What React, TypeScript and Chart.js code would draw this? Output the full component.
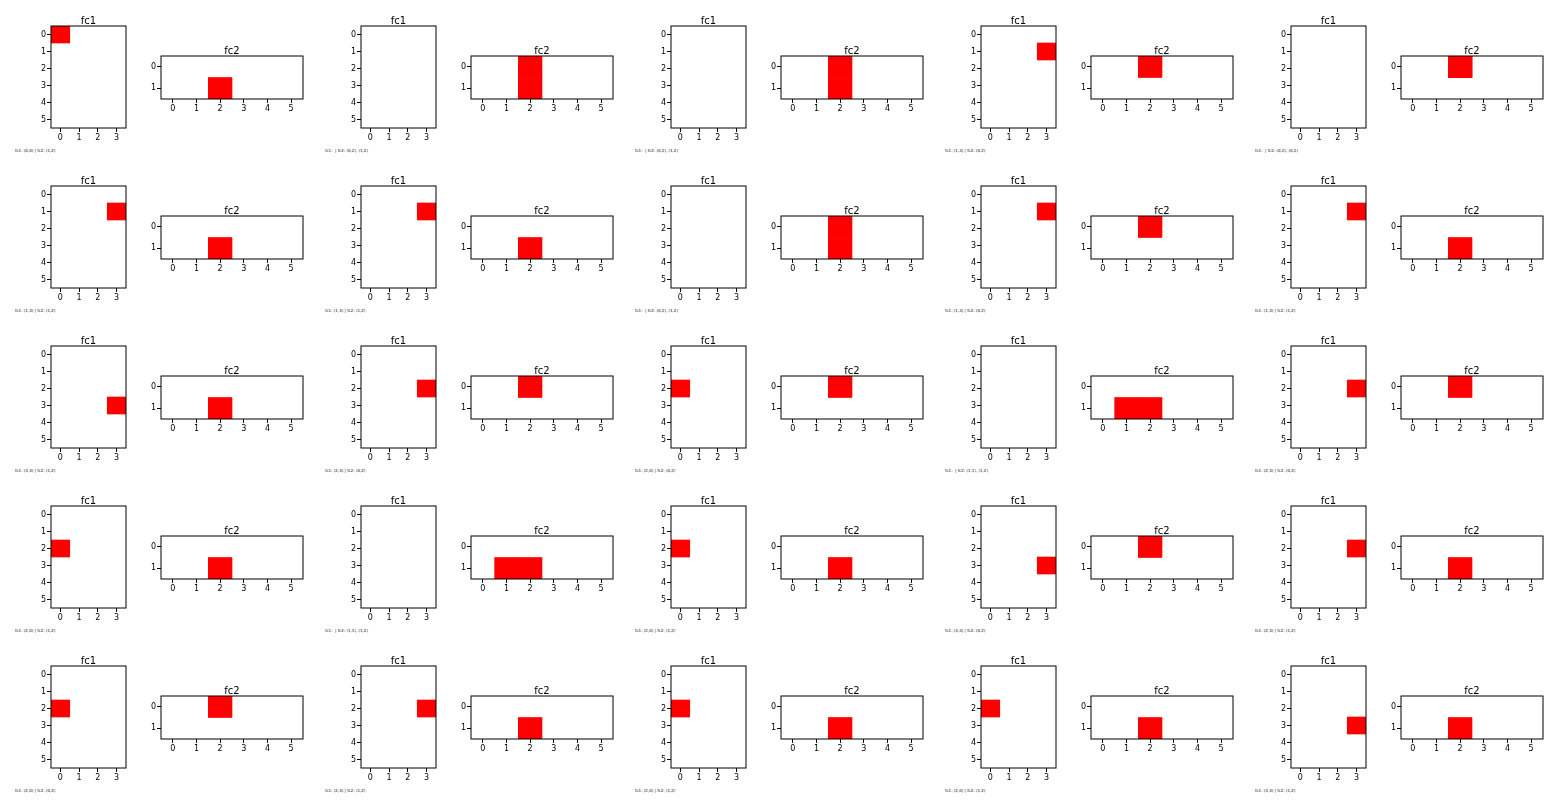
import React, { useEffect, useRef } from "react";
import { Chart, registerables } from "chart.js";

Chart.register(...registerables);
Chart.defaults.font.family = "'DejaVu Sans', sans-serif";

// axis categories / tick labels
const fc1Cols = ["0", "1", "2", "3"];
const fc1Rows = [0, 1, 2, 3, 4, 5];
const fc2Cols = ["0", "1", "2", "3", "4", "5"];
const fc2Rows = [0, 1];

// red cells [row, col] for each panel (row-major over the 5x5 grid)
const fc1Cells: number[][][] = [
  [[0, 0]], [], [], [[1, 3]], [],
  [[1, 3]], [[1, 3]], [], [[1, 3]], [[1, 3]],
  [[3, 3]], [[2, 3]], [[2, 0]], [], [[2, 3]],
  [[2, 0]], [], [[2, 0]], [[3, 3]], [[2, 3]],
  [[2, 0]], [[2, 3]], [[2, 0]], [[2, 0]], [[3, 3]],
];
const fc2Cells: number[][][] = [
  [[1, 2]], [[0, 2], [1, 2]], [[0, 2], [1, 2]], [[0, 2]], [[0, 2], [0, 2]],
  [[1, 2]], [[1, 2]], [[0, 2], [1, 2]], [[0, 2]], [[1, 2]],
  [[1, 2]], [[0, 2]], [[0, 2]], [[1, 1], [1, 2]], [[0, 2]],
  [[1, 2]], [[1, 1], [1, 2]], [[1, 2]], [[0, 2]], [[1, 2]],
  [[0, 2]], [[1, 2]], [[1, 2]], [[1, 2]], [[1, 2]],
];

const GRID_COLS = 5;
const CELL_W = 310;
const CELL_H = 160;

const YW = 40;
const TOP = 18;
const XH = 20;
const RP = 6;

const framePlugin = {
  id: "frame",
  afterDatasetsDraw(chart: any) {
    const { ctx, chartArea: a } = chart;
    ctx.save();
    ctx.strokeStyle = "#000";
    ctx.lineWidth = 1;
    ctx.strokeRect(a.left, a.top, a.right - a.left, a.bottom - a.top);
    ctx.restore();
  },
};

function Heat(props: {
  plotLeft: number;
  plotTop: number;
  plotW: number;
  plotH: number;
  title: string;
  cols: string[];
  rows: number[];
  cells: number[][];
}) {
  const { plotLeft, plotTop, plotW, plotH, title, cols, rows, cells } = props;
  const ref = useRef<HTMLCanvasElement>(null);
  const cw = YW + plotW + RP;
  const ch = TOP + plotH + XH;

  useEffect(() => {
    const datasets = cells.map(([r, c]) => ({
      data: cols.map((_, i) => (i === c ? [r - 0.5, r + 0.5] : null)),
      backgroundColor: "#ff0000",
      borderWidth: 0,
      barPercentage: 1,
      categoryPercentage: 1,
      grouped: false,
    }));
    const tickFont = { size: 8, family: "'DejaVu Sans', sans-serif" };
    const gridOpts = {
      drawOnChartArea: false,
      drawTicks: true,
      tickLength: 4,
      color: "#000",
      lineWidth: 1,
    };
    const chart = new Chart(ref.current as HTMLCanvasElement, {
      type: "bar",
      data: { labels: cols, datasets: datasets as any },
      options: {
        animation: false,
        responsive: false,
        devicePixelRatio: 1,
        layout: { padding: { left: 0, right: RP, top: 0, bottom: 0 } },
        plugins: {
          legend: { display: false },
          tooltip: { enabled: false },
          title: {
            display: true,
            text: title,
            fullSize: false,
            color: "#000",
            font: { size: 10, weight: "normal", lineHeight: 1.0 },
            padding: { top: 8, bottom: 0 },
          },
        },
        scales: {
          x: {
            type: "category",
            offset: true,
            grid: { ...gridOpts, offset: false },
            border: { display: false },
            ticks: { color: "#000", font: tickFont, padding: 1, maxRotation: 0, autoSkip: false },
            afterFit(s: any) {
              s.height = XH;
            },
          },
          y: {
            type: "linear",
            reverse: true,
            min: -0.5,
            max: rows.length - 0.5,
            afterBuildTicks(s: any) {
              s.ticks = rows.map((v) => ({ value: v }));
            },
            grid: gridOpts,
            border: { display: false },
            ticks: { color: "#000", font: tickFont, padding: 1 },
            afterFit(s: any) {
              s.width = YW;
            },
          },
        },
      } as any,
      plugins: [framePlugin],
    });
    return () => chart.destroy();
  }, []);

  return (
    <canvas
      ref={ref}
      width={cw}
      height={ch}
      style={{
        position: "absolute",
        left: plotLeft - YW,
        top: plotTop - TOP,
        width: cw,
        height: ch,
      }}
    />
  );
}

function fmt(cells: number[][]) {
  return cells.map(([r, c]) => `(${r},${c})`).join(", ");
}

export default function App() {
  return (
    <div
      style={{
        position: "absolute",
        left: 0,
        top: 0,
        width: 1560,
        height: 810,
        background: "#fff",
        overflow: "hidden",
      }}
    >
      {fc1Cells.map((c1, i) => {
        const ox = (i % GRID_COLS) * CELL_W;
        const oy = Math.floor(i / GRID_COLS) * CELL_H;
        const c2 = fc2Cells[i];
        return (
          <React.Fragment key={i}>
            <Heat
              plotLeft={ox + 51}
              plotTop={oy + 26}
              plotW={75}
              plotH={102}
              title="fc1"
              cols={fc1Cols}
              rows={fc1Rows}
              cells={c1}
            />
            <Heat
              plotLeft={ox + 161}
              plotTop={oy + 56}
              plotW={142}
              plotH={43}
              title="fc2"
              cols={fc2Cols}
              rows={fc2Rows}
              cells={c2}
            />
            <div
              style={{
                position: "absolute",
                left: ox + 15,
                top: oy + 148,
                fontFamily: "'DejaVu Sans', sans-serif",
                fontSize: 4,
                lineHeight: "6px",
                whiteSpace: "pre",
                color: "#000",
              }}
            >
              {`fc1: ${fmt(c1)} | fc2: ${fmt(c2)}`}
            </div>
          </React.Fragment>
        );
      })}
    </div>
  );
}
